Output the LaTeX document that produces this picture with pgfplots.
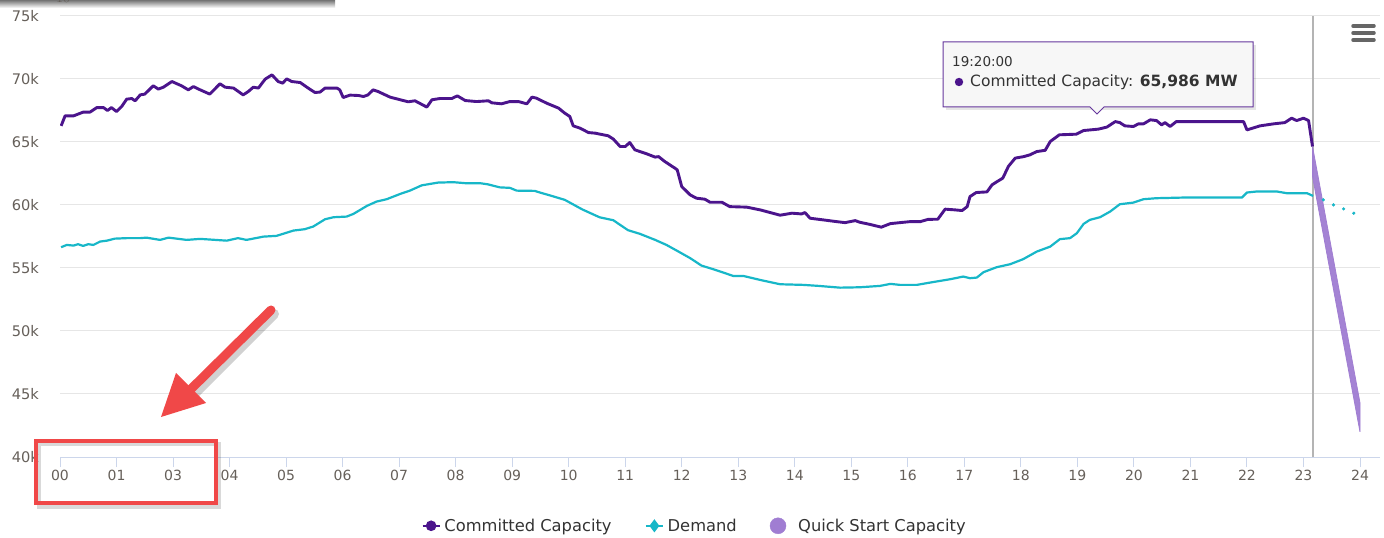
\documentclass[border=0pt]{standalone}
\usepackage{fontspec}
\setmainfont{DejaVu Sans}
\usepackage{pgfplots}
\pgfplotsset{compat=1.18}
\definecolor{cpurp}{RGB}{75,20,140}
\definecolor{cdem}{RGB}{23,183,200}
\definecolor{qscol}{RGB}{160,125,210}
\definecolor{gridcol}{RGB}{230,230,230}
\definecolor{axcol}{RGB}{204,214,235}
\definecolor{labcol}{RGB}{102,96,90}
\definecolor{legcol}{RGB}{51,51,51}
\definecolor{annred}{RGB}{240,72,72}
\definecolor{vlinecol}{RGB}{180,180,180}
\definecolor{tipfill}{RGB}{247,247,247}
\begin{document}
\begin{tikzpicture}
\fill[white] (0,0) rectangle (1384pt,538pt);
\shade[top color=black!55, bottom color=white] (0,530pt) rectangle (335pt,538pt);
\begin{axis}[
 at={(60pt,81pt)}, anchor=south west,
 scale only axis, width=1320pt, height=441pt,
 xmin=0, xmax=23.354, ymin=40000, ymax=75000,
 axis x line*=bottom, axis y line*=left,
 x axis line style={-, draw=axcol, line width=1pt},
 y axis line style={draw=none},
 xtick={0,...,23},
 xticklabels={00,01,03,04,05,06,07,08,09,10,11,12,13,14,15,16,17,18,19,20,21,22,23,24},
 ytick={40000,45000,50000,55000,60000,65000,70000,75000},
 yticklabels={40k,45k,50k,55k,60k,65k,70k,75k},
 tick align=outside, major tick length=10pt,
 xtick style={draw=axcol, line width=1pt},
 ytick style={draw=none},
 ymajorgrids, major grid style={draw=gridcol, line width=1pt},
 tick label style={text=labcol, font=\fontsize{14}{16}\selectfont},
 xticklabel style={anchor=center, yshift=-8pt},
 yticklabel style={anchor=east, inner sep=0pt, xshift=-11pt, font=\fontsize{14.6}{16}\selectfont},
 legend columns=3,
 legend cell align=left,
 legend style={draw=none, fill=none, at={(0.4807,-0.156)}, anchor=center,
   font=\fontsize{16.3}{18}\selectfont, text=legcol,
   /tikz/every even column/.append style={column sep=31pt}},
]
\addlegendimage{cpurp, line width=2.5pt, mark=*, mark size=4pt}
\addlegendentry{\hspace{1.5pt}Committed Capacity}
\addlegendimage{cdem, line width=2.5pt, mark=diamond*, mark size=4.5pt}
\addlegendentry{\hspace{1.5pt}Demand}
\addlegendimage{legend image code/.code={\fill[qscol] (0.3cm,0pt) circle (8pt);}}
\addlegendentry{\hspace{10pt}Quick Start Capacity}

\draw[vlinecol, line width=2pt] (axis cs:22.16,40000) -- (axis cs:22.16,75000);

\addplot[forget plot, cdem, line width=2.2pt, line join=round] coordinates {
(0.02,56650)(0.12,56830)(0.24,56780)(0.32,56890)(0.41,56750)(0.50,56890)(0.59,56830)(0.71,57100)(0.83,57170)(0.97,57330)(1.18,57370)(1.42,57370)(1.53,57410)(1.77,57230)(1.92,57410)(2.24,57230)(2.48,57310)(2.95,57170)(3.15,57370)(3.30,57230)(3.60,57490)(3.83,57550)(4.13,57970)(4.33,58080)(4.48,58290)(4.69,58870)(4.84,59030)(5.07,59080)(5.19,59290)(5.43,59930)(5.60,60270)(5.78,60460)(6.02,60880)(6.19,61140)(6.40,61560)(6.69,61780)(6.96,61810)(7.20,61720)(7.43,61730)(7.57,61640)(7.78,61400)(7.96,61360)(8.08,61140)(8.40,61120)(8.49,60990)(8.67,60760)(8.93,60410)(9.02,60190)(9.24,59650)(9.47,59180)(9.55,59020)(9.79,58790)(9.91,58420)(10.05,58000)(10.26,57710)(10.53,57230)(10.73,56830)(10.92,56360)(11.15,55780)(11.35,55190)(11.56,54900)(11.74,54630)(11.91,54370)(12.09,54370)(12.39,54050)(12.74,53710)(13.15,53660)(13.42,53580)(13.80,53440)(14.15,53470)(14.51,53580)(14.69,53740)(14.86,53660)(15.16,53660)(15.39,53840)(15.75,54110)(15.98,54320)(16.10,54190)(16.22,54240)(16.34,54670)(16.57,55060)(16.81,55300)(17.04,55700)(17.28,56300)(17.52,56700)(17.69,57290)(17.87,57370)(17.99,57760)(18.11,58500)(18.22,58820)(18.40,59030)(18.58,59480)(18.75,60060)(18.99,60190)(19.17,60460)(19.40,60540)(19.87,60590)(20.91,60590)(21.00,60990)(21.17,61070)(21.53,61070)(21.70,60940)(22.06,60940)(22.17,60720)
};
\addplot[forget plot, only marks, mark=*, mark size=1.4pt, cdem] coordinates {
(22.35,60410)(22.53,60010)(22.71,59690)(22.89,59350)
};
\addplot[forget plot, cpurp, line width=2.9pt, line join=round] coordinates {
(0.02,66280)(0.09,67075)(0.24,67075)(0.41,67370)(0.53,67370)(0.65,67730)(0.77,67730)(0.84,67500)(0.91,67730)(1.00,67420)(1.09,67810)(1.18,68400)(1.27,68450)(1.33,68270)(1.42,68740)(1.50,68800)(1.65,69460)(1.74,69200)(1.83,69350)(1.98,69800)(2.15,69460)(2.27,69140)(2.36,69400)(2.48,69140)(2.65,68800)(2.83,69620)(2.92,69350)(3.07,69280)(3.24,68740)(3.33,69000)(3.42,69350)(3.51,69280)(3.63,69990)(3.75,70330)(3.86,69800)(3.94,69670)(4.01,70010)(4.10,69800)(4.25,69720)(4.39,69280)(4.51,68930)(4.60,68960)(4.69,69280)(4.90,69280)(4.95,69140)(5.01,68530)(5.13,68720)(5.28,68690)(5.37,68610)(5.45,68740)(5.54,69140)(5.63,69000)(5.84,68560)(6.16,68190)(6.28,68270)(6.49,67770)(6.58,68350)(6.72,68450)(6.93,68450)(7.03,68660)(7.17,68290)(7.37,68210)(7.58,68270)(7.64,68110)(7.81,68030)(7.96,68210)(8.11,68210)(8.26,68030)(8.35,68560)(8.43,68480)(8.61,68080)(8.82,67690)(8.93,67290)(9.02,67020)(9.08,66280)(9.20,66100)(9.35,65750)(9.47,65700)(9.70,65490)(9.79,65230)(9.91,64640)(10.00,64640)(10.08,64960)(10.17,64380)(10.38,64060)(10.53,63800)(10.59,63840)(10.70,63450)(10.88,62920)(10.92,62790)(11.00,61460)(11.15,60800)(11.26,60540)(11.41,60460)(11.50,60220)(11.71,60220)(11.85,59870)(12.15,59830)(12.39,59610)(12.74,59190)(12.95,59350)(13.12,59290)(13.18,59400)(13.27,58950)(13.50,58820)(13.74,58680)(13.89,58600)(14.07,58760)(14.15,58630)(14.33,58460)(14.53,58240)(14.69,58520)(14.86,58600)(15.04,58680)(15.22,58680)(15.36,58860)(15.53,58870)(15.66,59670)(15.84,59610)(15.96,59560)(16.05,59870)(16.10,60670)(16.21,60990)(16.40,61040)(16.49,61600)(16.58,61860)(16.68,62130)(16.78,63070)(16.90,63720)(17.05,63840)(17.16,63980)(17.28,64240)(17.43,64340)(17.52,65040)(17.68,65570)(17.98,65620)(18.11,65910)(18.37,66020)(18.52,66180)(18.67,66620)(18.75,66540)(18.84,66280)(18.99,66230)(19.08,66440)(19.17,66440)(19.29,66760)(19.40,66700)(19.49,66360)(19.55,66540)(19.64,66230)(19.75,66620)(20.94,66620)(21.00,65960)(21.23,66280)(21.47,66440)(21.67,66540)(21.79,66890)(21.88,66700)(22.00,66890)(22.09,66700)(22.16,64640)
};
\addplot[forget plot, fill=qscol, draw=qscol, line width=0.8pt, fill opacity=0.95] coordinates {
(22.16,64640)(23.0,44290)(23.0,41990)(22.16,62255)
} -- cycle;
\end{axis}
\begin{scope}[shift={(0,538pt)}, x=1pt, y=-1pt]
 % tooltip
 \fill[black, opacity=0.10] (946,45) rectangle (1256,110);
 \draw[cpurp!85, line width=1pt, fill=tipfill] (943,42) -- (1253,42) -- (1253,107) -- (1104,107) -- (1097,114) -- (1090,107) -- (943,107) -- cycle;
 \node[anchor=west, text=legcol, font=\fontsize{13.5}{16}\selectfont, inner sep=0pt] at (952,62) {19:20:00};
 \fill[cpurp] (959,82) circle (4.2);
 \node[anchor=west, text=legcol, font=\fontsize{15.5}{18}\selectfont, inner sep=0pt] at (970,82) {Committed Capacity: \textbf{65,986 MW}};
 % menu icon
 \draw[black!60, line width=3.5pt, line cap=round] (1353,26)--(1374,26) (1353,33)--(1374,33) (1353,40)--(1374,40);
 % red annotations
 \draw[black, opacity=0.18, line width=10pt, line cap=round] (274,314) -- (192,396);
 \draw[annred, line width=9pt, line cap=round] (271,310) -- (188,392);
 \fill[annred] (161,417) -- (176,373) -- (206,403) -- cycle;
 \draw[black, opacity=0.15, line width=4pt] (39,444) rectangle (219,507);
 \draw[annred, line width=3.5pt] (36,441) rectangle (216,503);
\end{scope}
\pgfresetboundingbox
\useasboundingbox (0,0) rectangle (1384pt,538pt);
\end{tikzpicture}
\end{document}
